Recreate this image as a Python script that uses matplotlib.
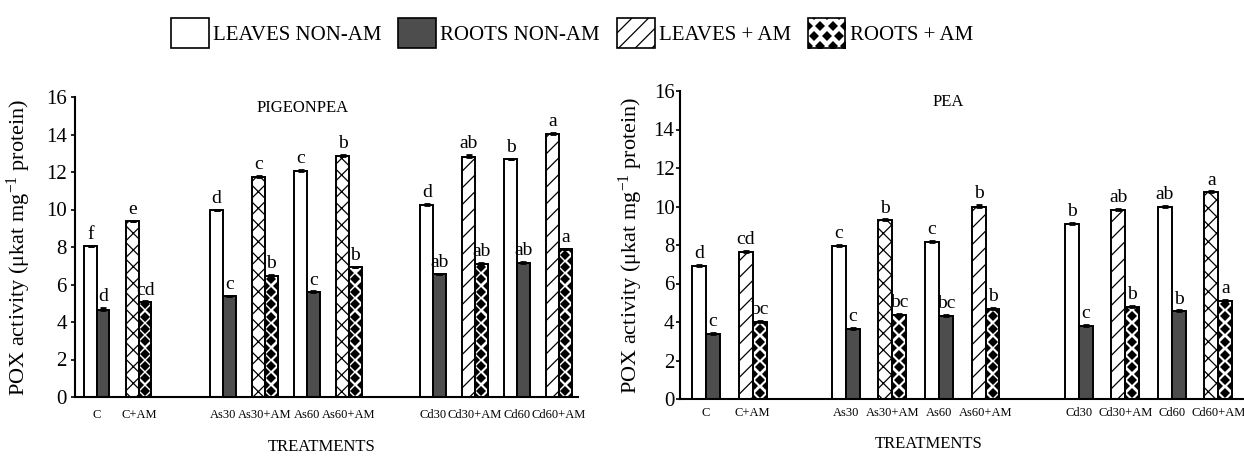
import numpy as np
import matplotlib
matplotlib.use("Agg")
import matplotlib.pyplot as plt
from matplotlib.patches import Patch, Rectangle
from matplotlib.lines import Line2D
from matplotlib.legend_handler import HandlerBase

plt.rcParams['font.family'] = ['Liberation Serif', 'DejaVu Serif']
plt.rcParams['mathtext.fontset'] = 'custom'
plt.rcParams['mathtext.rm'] = 'Liberation Serif'
plt.rcParams['mathtext.default'] = 'regular'
plt.rcParams['hatch.linewidth'] = 0.9

# treatments and measured POX activity
treatments = ['C', 'C+AM', 'As30', 'As30+AM', 'As60', 'As60+AM',
              'Cd30', 'Cd30+AM', 'Cd60', 'Cd60+AM']

pp_leaves = [8.05, 9.37, 9.96, 11.75, 12.07, 12.86, 10.25, 12.82, 12.67, 14.05]
pp_roots = [4.64, 5.07, 5.38, 6.46, 5.60, 6.93, 6.55, 7.12, 7.14, 7.88]
pp_leaves_err = [0.03, 0.03, 0.03, 0.05, 0.04, 0.05, 0.06, 0.08, 0.03, 0.03]
pp_roots_err = [0.10, 0.03, 0.03, 0.03, 0.03, 0.03, 0.03, 0.04, 0.06, 0.03]
pp_leaves_sig = ['f', 'e', 'd', 'c', 'c', 'b', 'd', 'ab', 'b', 'a']
pp_roots_sig = ['d', 'cd', 'c', 'b', 'c', 'b', 'ab', 'ab', 'ab', 'a']

pea_leaves = [6.90, 7.65, 7.95, 9.30, 8.15, 9.95, 9.10, 9.80, 10.00, 10.75]
pea_roots = [3.40, 4.00, 3.65, 4.35, 4.30, 4.70, 3.80, 4.80, 4.55, 5.10]
pea_leaves_err = [0.05, 0.06, 0.07, 0.03, 0.08, 0.15, 0.03, 0.06, 0.03, 0.03]
pea_roots_err = [0.03, 0.05, 0.03, 0.05, 0.05, 0.03, 0.03, 0.05, 0.05, 0.05]
pea_leaves_sig = ['d', 'cd', 'c', 'b', 'c', 'b', 'b', 'ab', 'ab', 'a']
pea_roots_sig = ['c', 'bc', 'c', 'bc', 'bc', 'b', 'c', 'b', 'b', 'a']

legend_labels = ['LEAVES NON-AM', 'ROOTS NON-AM', 'LEAVES + AM', 'ROOTS + AM']

# layout / style
slots = np.array([0, 1, 3, 4, 5, 6, 8, 9, 10, 11])
w = 0.3
dark = '#4d4d4d'
pp_hatch = ['xx', 'xx', 'xx', '//', '//']
pea_hatch = ['//', 'xx', '//', '//', 'xx']


def diamonds(ax, bar, step=0.66):
    x0 = bar.get_x()
    bw = bar.get_width()
    h = bar.get_height()
    yc = np.arange(step / 2, h, step)
    ye = np.arange(0, h + step, step)
    xs = np.concatenate([np.full(len(yc), x0 + bw / 2), np.full(len(ye), x0), np.full(len(ye), x0 + bw)])
    ys = np.concatenate([yc, ye, ye])
    ln, = ax.plot(xs, ys, 'D', color='black', ms=5.6, mew=0, zorder=3)
    ln.set_clip_path(bar)


def panel(ax, leaves, roots, lerr, rerr, lsig, rsig, hatches, title, tx, ty):
    k = 0
    for i, t in enumerate(treatments):
        am = '+AM' in t
        xl = slots[i] - w / 2
        xr = slots[i] + w / 2
        if am:
            ax.bar(xl, leaves[i], w, facecolor='white', edgecolor='black', lw=1.4, hatch=hatches[k], zorder=2)
            rb = ax.bar(xr, roots[i], w, facecolor='white', edgecolor='black', lw=1.4, zorder=2)[0]
            diamonds(ax, rb)
            k += 1
        else:
            ax.bar(xl, leaves[i], w, facecolor='white', edgecolor='black', lw=1.4, zorder=2)
            ax.bar(xr, roots[i], w, facecolor=dark, edgecolor='black', lw=1.4, zorder=2)
        ax.errorbar([xl, xr], [leaves[i], roots[i]], yerr=[[0, 0], [lerr[i], rerr[i]]],
                    fmt='none', ecolor='black', elinewidth=2, capsize=2.5, capthick=2, zorder=4)
        ax.text(xl, leaves[i] + lerr[i] + 0.15, lsig[i], ha='center', va='bottom', fontsize=14)
        ax.text(xr, roots[i] + rerr[i] + 0.15, rsig[i], ha='center', va='bottom', fontsize=14)

    ax.set_ylim(0, 16)
    ax.set_yticks(range(0, 17, 2))
    ax.set_xticks(slots)
    ax.set_xticklabels(treatments, fontsize=9)
    ax.tick_params(axis='x', length=0)
    ax.tick_params(axis='y', labelsize=15, length=3, width=1.2, direction='out')
    for s in ['top', 'right']:
        ax.spines[s].set_visible(False)
    ax.spines['left'].set_linewidth(1.5)
    ax.spines['bottom'].set_linewidth(1.5)
    ax.text(tx, ty, title, ha='center', va='center', fontsize=12)
    ax.set_ylabel('POX activity (μkat mg$^{-1}$ protein)', fontsize=16)
    ax.set_xlabel('TREATMENTS', fontsize=12)


class HandlerDiamond(HandlerBase):
    def create_artists(self, legend, orig_handle, xdescent, ydescent, width, height, fontsize, trans):
        rect = Rectangle((-xdescent, -ydescent), width, height, facecolor='white',
                         edgecolor='black', lw=1.2, transform=trans)
        xs, ys = [], []
        for r, yf in enumerate([0.05, 0.4, 0.75, 1.1]):
            off = 0.0 if r % 2 == 0 else 1 / 6
            for xf in [0, 1 / 3, 2 / 3, 1]:
                xs.append(-xdescent + (xf + off) * width)
                ys.append(-ydescent + yf * height)
        dots = Line2D(xs, ys, linestyle='none', marker='D', color='black', ms=5.5, mew=0, transform=trans)
        dots.set_clip_path(rect)
        return [rect, dots]


fig = plt.figure(figsize=(12.44, 4.57), dpi=100)
ax1 = fig.add_axes([75 / 1244, 60 / 457, 503 / 1244, 300 / 457])
ax2 = fig.add_axes([680 / 1244, 58 / 457, 564 / 1244, 308 / 457])

panel(ax1, pp_leaves, pp_roots, pp_leaves_err, pp_roots_err, pp_leaves_sig, pp_roots_sig,
      pp_hatch, 'PIGEONPEA', 4.9, 15.4)
panel(ax2, pea_leaves, pea_roots, pea_leaves_err, pea_roots_err, pea_leaves_sig, pea_roots_sig,
      pea_hatch, 'PEA', 5.2, 15.45)

ax1.set_xlim(-0.52, 11.45)
ax2.set_xlim(-0.56, 11.55)
ax1.tick_params(axis='y', pad=3)
ax2.tick_params(axis='y', pad=1)
ax1.tick_params(axis='x', pad=9)
ax2.tick_params(axis='x', pad=6)
ax1.yaxis.set_label_coords(-0.083, 0.5)
ax2.yaxis.set_label_coords(-0.062, 0.5)
ax1.xaxis.set_label_coords(0.49, -0.14)
ax2.xaxis.set_label_coords(0.44, -0.12)

handles = [Patch(facecolor='white', edgecolor='black', lw=1.2),
           Patch(facecolor=dark, edgecolor='black', lw=1.2),
           Patch(facecolor='white', edgecolor='black', lw=1.2, hatch='//'),
           Patch(facecolor='white', edgecolor='black', lw=1.2)]
fig.legend(handles, legend_labels, loc='center', bbox_to_anchor=(572 / 1244, 1 - 33 / 457),
           ncol=4, frameon=False, fontsize=15, handlelength=1.82, handleheight=1.82,
           handletextpad=0.2, columnspacing=0.8,
           handler_map={handles[3]: HandlerDiamond()})

fig.savefig('out.png', dpi=100)
